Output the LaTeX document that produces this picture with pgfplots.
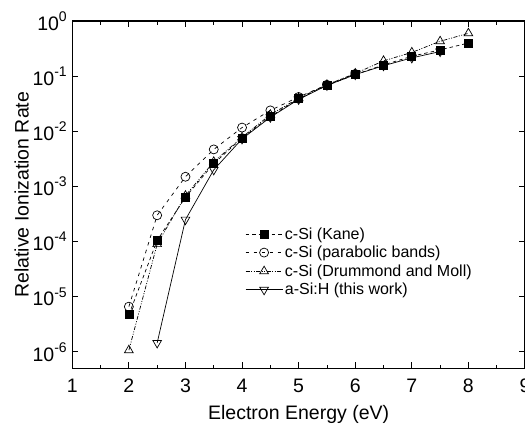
\documentclass[border=0pt]{standalone}
\usepackage{pgfplots}
\pgfplotsset{compat=1.18}
\usepackage{fontspec}
\setmainfont{Liberation Sans}
\newcommand{\myexp}[1]{\raisebox{0.45em}{\fontsize{14}{15}\selectfont #1}}
\begin{document}
\begin{tikzpicture}[trim axis right]
\begin{semilogyaxis}[
  name=ax,
  scale only axis,
  width=451bp, height=346bp,
  xmin=1, xmax=9,
  ymin=5e-7, ymax=1,
  log basis y=10,
  xtick={1,2,3,4,5,6,7,8,9},
  minor x tick num=1,
  ytick={1e-6,1e-5,1e-4,1e-3,1e-2,1e-1,1},
  yticklabel={10\myexp{\pgfmathparse{int(round(\tick))}\pgfmathresult}},
  tick align=inside,
  tick pos=both,
  major tick length=6bp,
  minor tick length=3.5bp,
  axis line style={line width=1.2pt},
  every tick/.style={black, line width=0.8pt},
  /pgf/number format/assume math mode=true,
  tick label style={font=\fontsize{19.5}{21}\selectfont},
  yticklabel style={xshift=-2bp},
  xticklabel style={yshift=-7bp},
  label style={font=\fontsize{19.5}{22}\selectfont},
  xlabel={Electron Energy (eV)},
  ylabel={Relative Ionization Rate},
  xlabel style={yshift=-6bp},
  ylabel style={yshift=-3bp},
  legend style={draw=none, fill=none, at={(0.375,0.418)}, anchor=north west,
    font=\fontsize{16}{18}\selectfont, row sep=1.5bp,
    legend cell align=left},
  legend image code/.code={
    \draw[mark repeat=2,mark phase=2] plot coordinates {(0cm,0cm) (0.65cm,0cm) (1.3cm,0cm)};},
]
\addplot[black, line width=0.7pt, dash pattern=on 3.5pt off 3pt, mark=square*, mark size=4bp, mark options={solid, fill=black}]
coordinates {(2,4.7e-6) (2.5,1.05e-4) (3,6.4e-4) (3.5,2.6e-3) (4,7.6e-3) (4.5,0.0186) (5,0.039) (5.5,0.068) (6,0.107) (6.5,0.16) (7,0.23) (7.5,0.30) (8,0.40)};
\addlegendentry{c-Si (Kane)}
\addplot[black, line width=0.7pt, dash pattern=on 3.5pt off 4.5pt, mark=o, mark size=4.5bp, mark options={solid, fill=white}]
coordinates {(2,6.6e-6) (2.5,3e-4) (3,1.5e-3) (3.5,4.7e-3) (4,0.0117) (4.5,0.024) (5,0.042) (5.5,0.07) (6,0.11)};
\addlegendentry{c-Si (parabolic bands)}
\addplot[black, line width=0.7pt, dash pattern=on 4pt off 1.5pt on 1pt off 1.5pt on 1pt off 1.5pt, mark=triangle, mark size=5bp, mark options={solid, fill=white}]
coordinates {(2,1.07e-6) (2.5,9e-5) (3,6.8e-4) (3.5,2.8e-3) (4,7.8e-3) (4.5,0.02) (5,0.04) (5.5,0.07) (6,0.112) (6.5,0.19) (7,0.27) (7.5,0.43) (8,0.6)};
\addlegendentry{c-Si (Drummond and Moll)}
\addplot[black, line width=0.7pt, solid, mark=triangle, mark size=5bp, mark options={solid, fill=white, rotate=180}]
coordinates {(2.5,1.45e-6) (3,2.5e-4) (3.5,2.0e-3) (4,7.3e-3) (4.5,0.018) (5,0.038) (5.5,0.068) (6,0.107) (6.5,0.155) (7,0.215) (7.5,0.28)};
\addlegendentry{a-Si:H (this work)}
\end{semilogyaxis}
\path ([yshift=21bp]ax.north) ([xshift=-72bp]ax.west);
\end{tikzpicture}
\end{document}
